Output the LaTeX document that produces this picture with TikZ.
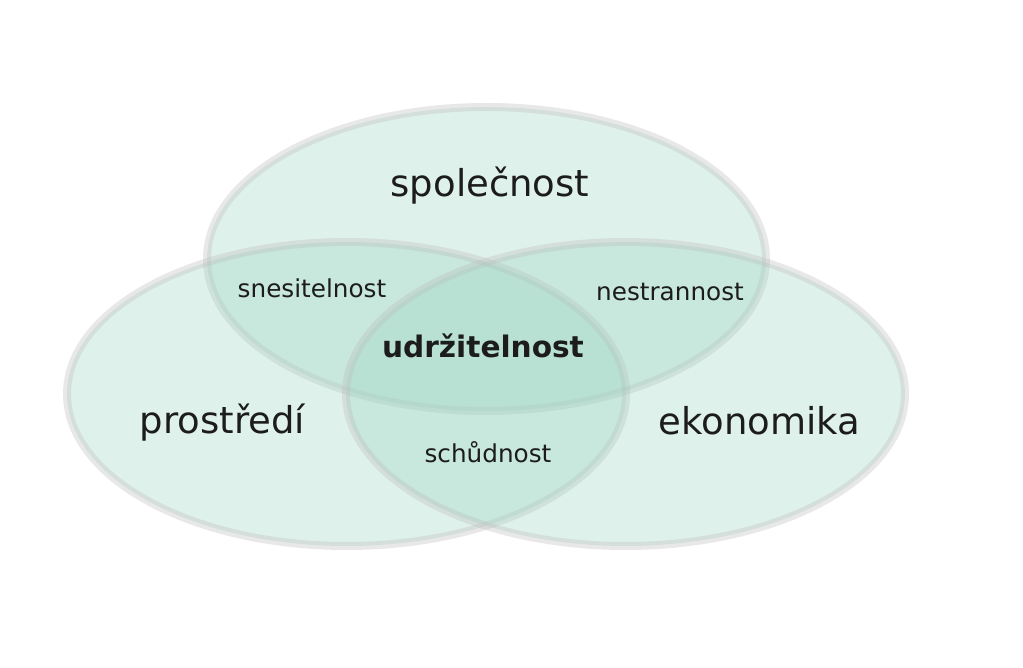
\documentclass[tikz,border=0pt]{standalone}
\usepackage{fontspec}
\setmainfont{DejaVu Sans}
\usetikzlibrary{shapes.geometric}
\definecolor{mint}{RGB}{150,210,190}
\definecolor{rimgray}{RGB}{190,188,188}
\definecolor{txt}{RGB}{28,28,28}
\tikzset{
  venn/.style={ellipse, inner sep=0pt, minimum width=559pt, minimum height=304pt,
    fill=mint, fill opacity=0.30, draw=rimgray, draw opacity=0.33, line width=8pt},
  biglabel/.style={anchor=base, text=txt, font=\fontsize{37}{40}\selectfont, inner sep=0pt},
  smalllabel/.style={anchor=base, text=txt, font=\fontsize{24.7}{28}\selectfont, inner sep=0pt},
  corelabel/.style={anchor=base, text=txt, font=\bfseries\fontsize{29.6}{32}\selectfont, inner sep=0pt}
}
\begin{document}
\begin{tikzpicture}[x=1pt,y=-1pt]
\useasboundingbox[fill=white] (0,0) rectangle (1023,668);
\node[venn] (soc) at (486.5,259) {};
\node[venn] (env) at (346.5,394) {};
\node[venn] (eco) at (625.5,394) {};
\node[biglabel] (lsoc) at (490,197) {společnost};
\node[biglabel] (lenv) at (222.5,433) {prostředí};
\node[biglabel] (leco) at (759.5,434) {ekonomika};
\node[smalllabel] (lsn) at (312,298) {snesitelnost};
\node[smalllabel] (lne) at (670,301) {nestrannost};
\node[smalllabel] (lsch) at (488,462) {schůdnost};
\node[corelabel] (lud) at (483,358) {udržitelnost};
\end{tikzpicture}
\end{document}
